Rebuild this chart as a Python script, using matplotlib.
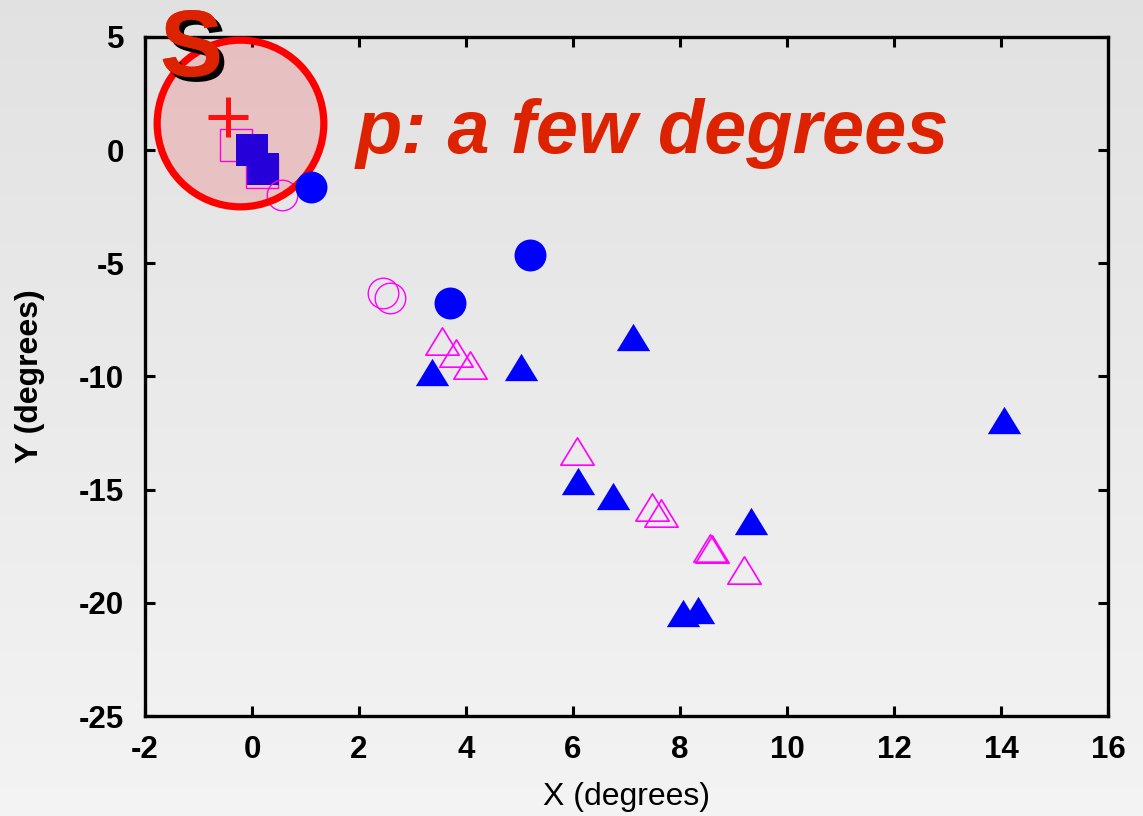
import numpy as np
import matplotlib
matplotlib.use("Agg")
import matplotlib.pyplot as plt
import matplotlib.patheffects as pe
from matplotlib.path import Path

# ---- data (degrees) ----
blue_sq_x = [0.0, 0.20]
blue_sq_y = [0.0, -0.82]
mag_sq_x = [-0.30, 0.18]
mag_sq_y = [0.22, -0.95]

blue_circ_x = [1.10, 5.20, 3.70]
blue_circ_y = [-1.61, -4.65, -6.74]
mag_circ_x = [0.57, 2.45, 2.58]
mag_circ_y = [-1.97, -6.30, -6.55]

blue_tri_x = [3.37, 5.03, 7.13, 6.10, 6.74, 9.32, 8.06, 8.33, 14.05]
blue_tri_y = [-9.80, -9.60, -8.27, -14.60, -15.30, -16.37, -20.47, -20.30, -11.90]
mag_tri_x = [3.56, 3.82, 4.08, 6.08, 7.47, 7.65, 8.57, 8.60, 9.19]
mag_tri_y = [-8.45, -8.95, -9.50, -13.30, -15.75, -16.05, -17.57, -17.62, -18.54]

target_x = [-0.22]
target_y = [1.19]
fix_x = [-0.45]
fix_y = [1.46]

xticks = [-2, 0, 2, 4, 6, 8, 10, 12, 14, 16]
yticks = [5, 0, -5, -10, -15, -20, -25]

RED_TXT = "#dd2200"
BLUE = "#0000ff"
MAG = "#ff00ff"

plt.rcParams["font.family"] = ["Liberation Sans", "DejaVu Sans"]

fig = plt.figure(figsize=(11.43, 8.16), dpi=100)

# gradient background
bg = fig.add_axes([0, 0, 1, 1], zorder=-10)
grad = np.linspace(0.885, 0.955, 256).reshape(-1, 1)
bg.imshow(np.dstack([grad, grad, grad]), aspect="auto", extent=[0, 1, 0, 1], origin="upper")
bg.set_axis_off()

ax = fig.add_axes([145 / 1143, 1 - 716 / 816, (1108 - 145) / 1143, (716 - 37) / 816])
ax.set_facecolor("none")

tri = Path([(0, 0.41), (-0.5, -0.41), (0.5, -0.41), (0, 0.41)],
           [Path.MOVETO, Path.LINETO, Path.LINETO, Path.CLOSEPOLY])

ms = 23
ax.plot(mag_sq_x, mag_sq_y, ls="none", marker="s", ms=ms, mfc="none", mec=MAG, mew=1.0, zorder=2)
ax.plot(blue_sq_x, blue_sq_y, ls="none", marker="s", ms=ms, mfc=BLUE, mec=BLUE, mew=0, zorder=2)
ax.plot(mag_circ_x, mag_circ_y, ls="none", marker="o", ms=ms - 1, mfc="none", mec=MAG, mew=1.0, zorder=2)
ax.plot(mag_tri_x, mag_tri_y, ls="none", marker=tri, ms=ms + 1, mfc="none", mec=MAG, mew=1.2, zorder=2)

# target circle
ax.plot(target_x, target_y, ls="none", marker="o", ms=120, mfc=(1, 0, 0, 0.15),
        mec="#ff0000", mew=5.2, zorder=3, clip_on=False)
ax.plot(fix_x, fix_y, ls="none", marker="+", ms=29, mec="#ff1010", mew=3.6, zorder=5, clip_on=False)

ax.plot(blue_circ_x, blue_circ_y, ls="none", marker="o", ms=ms, mfc=BLUE, mec=BLUE, mew=0, zorder=4)
ax.plot(blue_tri_x, blue_tri_y, ls="none", marker=tri, ms=ms + 1, mfc=BLUE, mec=BLUE, mew=0, zorder=4)

ax.set_xlim(-2, 16)
ax.set_ylim(-25, 5)
ax.set_xticks(xticks)
ax.set_yticks(yticks)
ax.set_xticklabels([str(v) for v in xticks], fontsize=22.5, fontweight="bold")
ax.set_yticklabels([str(v) for v in yticks], fontsize=22.5, fontweight="bold")
ax.tick_params(direction="in", length=7, width=2.2, top=True, right=True)
ax.tick_params(axis="x", pad=14)
ax.tick_params(axis="y", pad=15)
for s in ax.spines.values():
    s.set_linewidth(2.4)

ax.set_xlabel("X (degrees)", fontsize=23, va="top")
ax.xaxis.set_label_coords(0.5, -0.097)
ax.set_ylabel("Y (degrees)", fontsize=23, fontweight="bold", va="center")
ax.yaxis.set_label_coords(-0.119, 0.5)

# "S" with drop shadow
fig.text(160 / 1143, 1 - 76 / 816, "S", fontsize=68, fontweight="bold",
         color=RED_TXT, ha="left", va="baseline", zorder=7,
         path_effects=[pe.withSimplePatchShadow(offset=(3.6, -3.6), shadow_rgbFace="black", alpha=1.0),
                       pe.Normal()])

fig.text(356 / 1143, 1 - 153 / 816, "p: a few degrees", fontsize=54.5, fontweight="bold",
         fontstyle="italic", color=RED_TXT, ha="left", va="baseline")

fig.savefig("out.png", dpi=100)
